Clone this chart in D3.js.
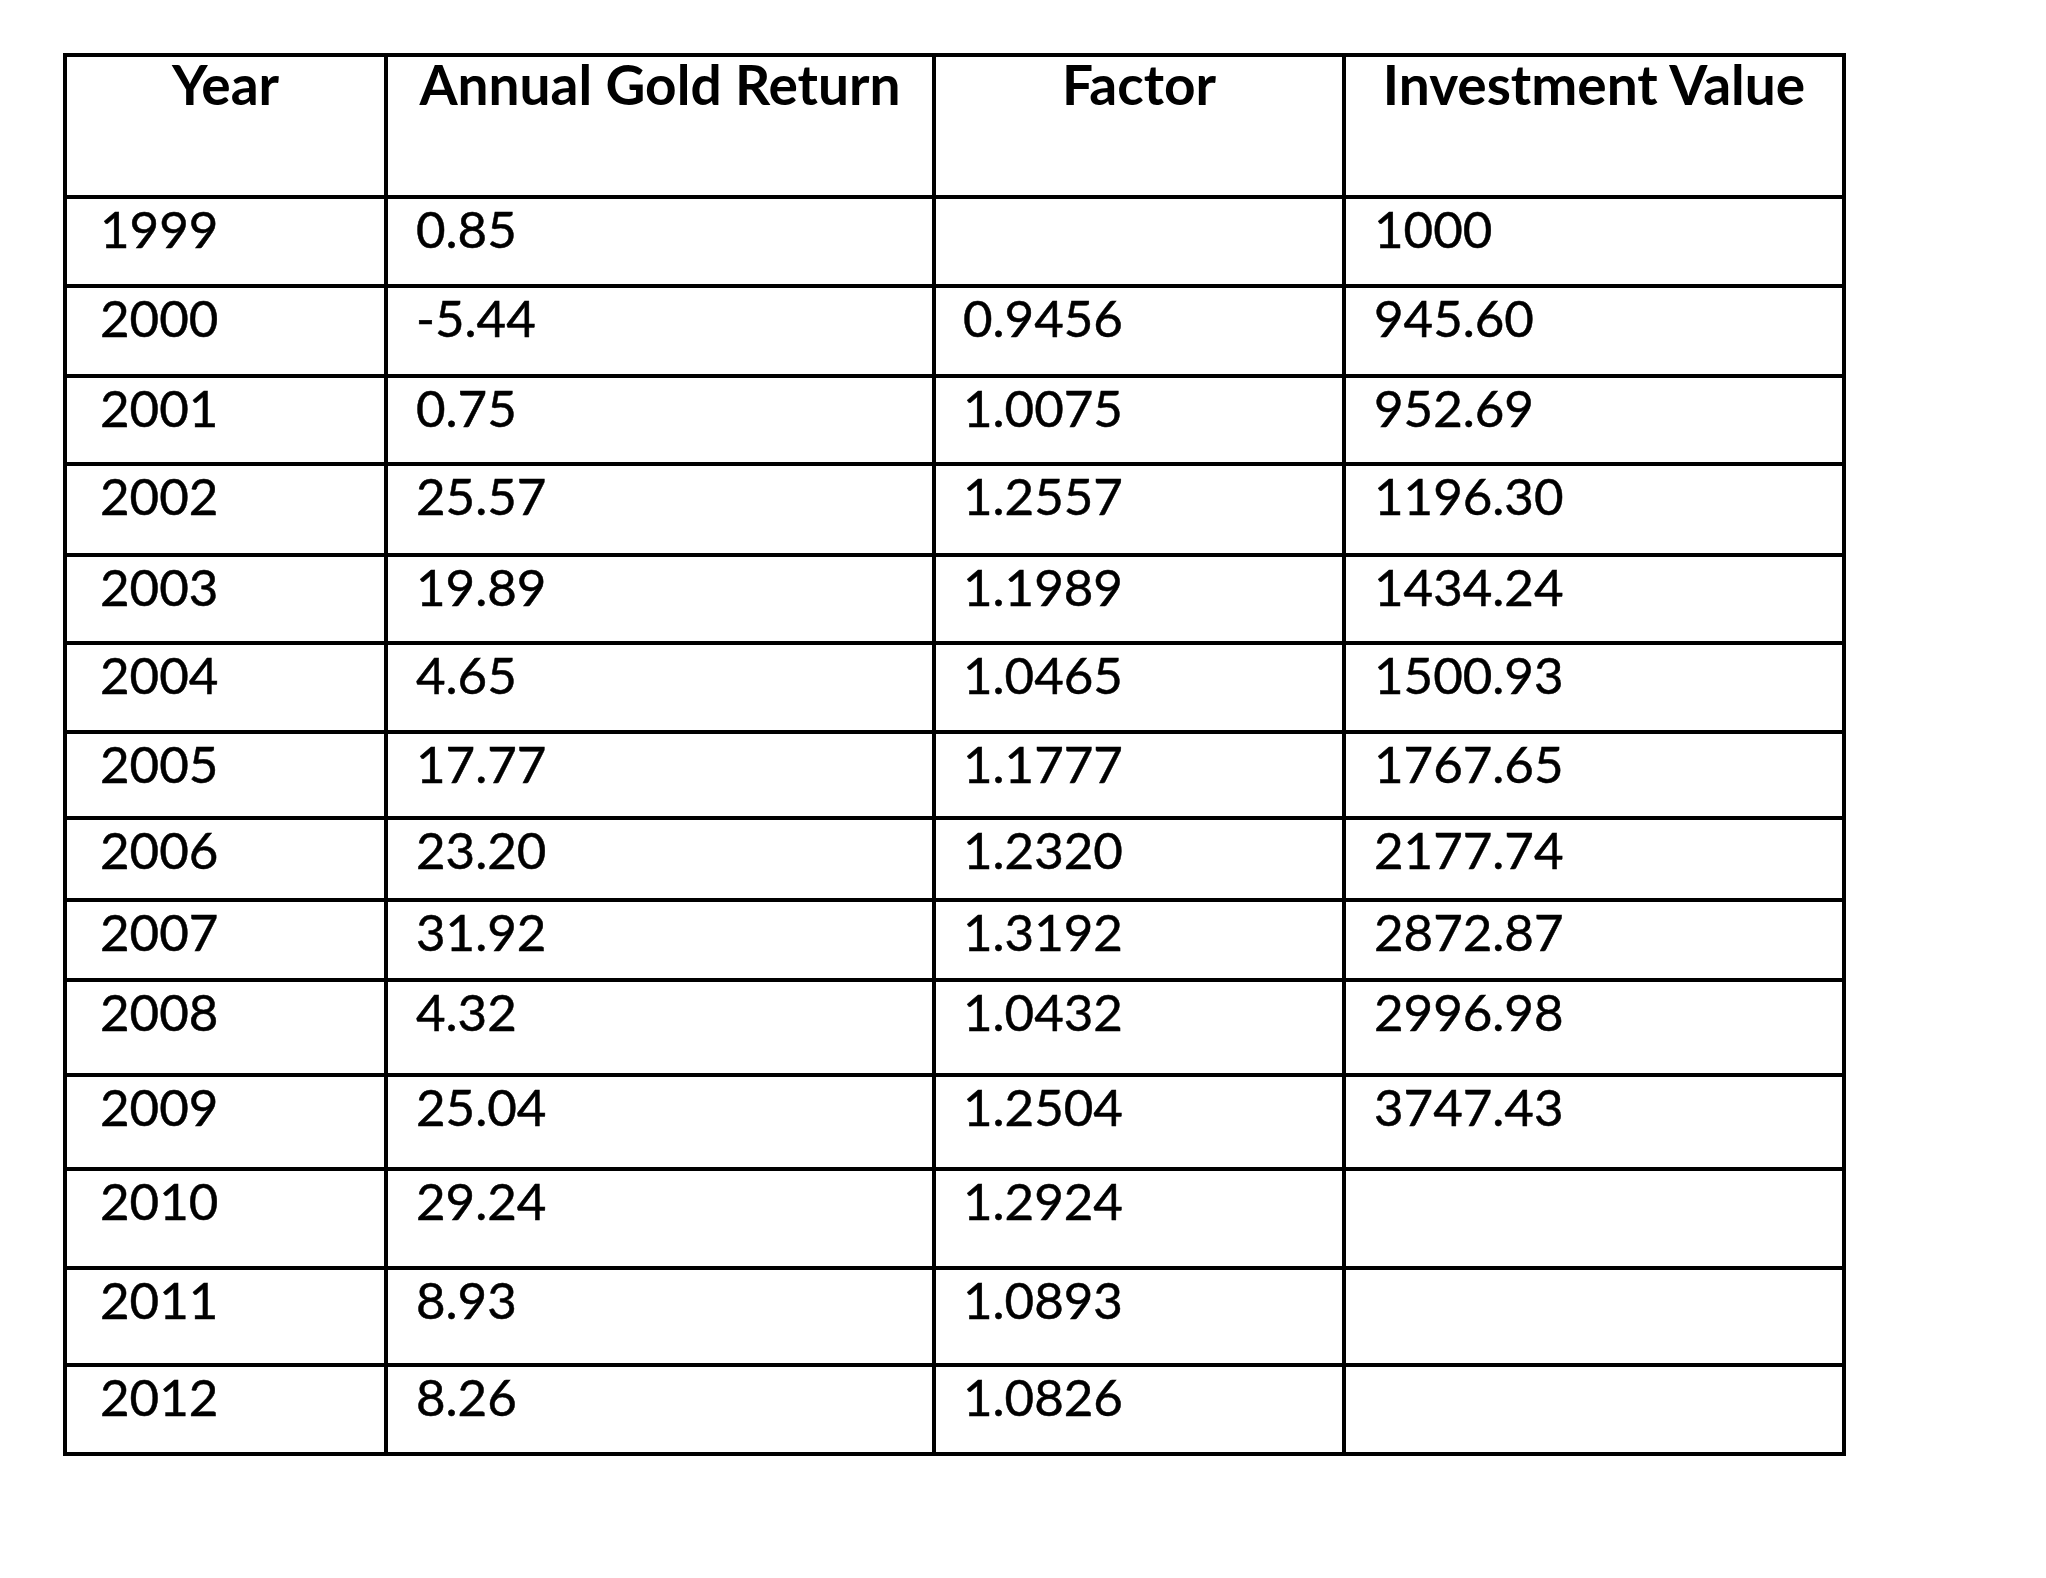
<!doctype html>
<meta charset="utf-8">
<style>
  body { margin: 0; background: #fff; }
  svg text { font-family: Lato, "Open Sans", sans-serif; fill: #000; }
</style>
<script src="https://d3js.org/d3.v7.min.js"></script>
<body>
<svg id="table"></svg>
<script>
// table content
var headers = ["Year", "Annual Gold Return", "Factor", "Investment Value"];
var years = ["1999","2000","2001","2002","2003","2004","2005","2006","2007","2008","2009","2010","2011","2012"];
var returns = ["0.85","-5.44","0.75","25.57","19.89","4.65","17.77","23.20","31.92","4.32","25.04","29.24","8.93","8.26"];
var factors = [null,"0.9456","1.0075","1.2557","1.1989","1.0465","1.1777","1.2320","1.3192","1.0432","1.2504","1.2924","1.0893","1.0826"];
var values = ["1000","945.60","952.69","1196.30","1434.24","1500.93","1767.65","2177.74","2872.87","2996.98","3747.43",null,null,null];

// layout: grid line positions (header row first, then one per year)
var colEdges = [65, 386, 934, 1344, 1844];
var rowEdges = [55, 197, 286, 376, 464, 555, 643, 732, 818, 900, 980, 1075, 1169, 1268, 1365, 1454];
var padLeft = [35, 30, 29, 30];

var width = 2046, height = 1578;
var svg = d3.select("svg").attr("width", width).attr("height", height);

// each cell keeps its column index so blanks don't shift the rest
var rows = years.map(function(y, i){
  return [y, returns[i], factors[i], values[i]].map(function(v, c){ return {v: v, c: c}; });
});

// header text, centred in each column
svg.append("g").selectAll("text")
  .data(headers)
  .enter().append("text")
    .attr("x", function(d, i){ return (colEdges[i] + colEdges[i+1]) / 2; })
    .attr("y", rowEdges[0] + 50)
    .attr("text-anchor", "middle")
    .style("font-size", "55px")
    .style("font-weight", "bold")
    .text(function(d){ return d; });

// body cells
var rowg = svg.append("g").selectAll("g")
  .data(rows)
  .enter().append("g")
    .attr("transform", function(d, i){ return "translate(0," + rowEdges[i+1] + ")"; });

rowg.selectAll("text")
  .data(function(d){ return d.filter(function(cell){ return cell.v !== null; }); })
  .enter().append("text")
    .attr("x", function(d){ return colEdges[d.c] + padLeft[d.c]; })
    .attr("y", 51)
    .style("font-size", "51px")
    .style("stroke", "#000")
    .style("stroke-width", 0.5)
    .text(function(d){ return d.v; });

// grid lines
var grid = svg.append("g").attr("stroke", "#000").attr("stroke-width", 4);
grid.selectAll(".h")
  .data(rowEdges)
  .enter().append("line")
    .attr("x1", colEdges[0] - 2).attr("x2", colEdges[colEdges.length-1] + 2)
    .attr("y1", function(d){ return d; }).attr("y2", function(d){ return d; });
grid.selectAll(".v")
  .data(colEdges)
  .enter().append("line")
    .attr("x1", function(d){ return d; }).attr("x2", function(d){ return d; })
    .attr("y1", rowEdges[0] - 2).attr("y2", rowEdges[rowEdges.length-1] + 2);
</script>
</body>
